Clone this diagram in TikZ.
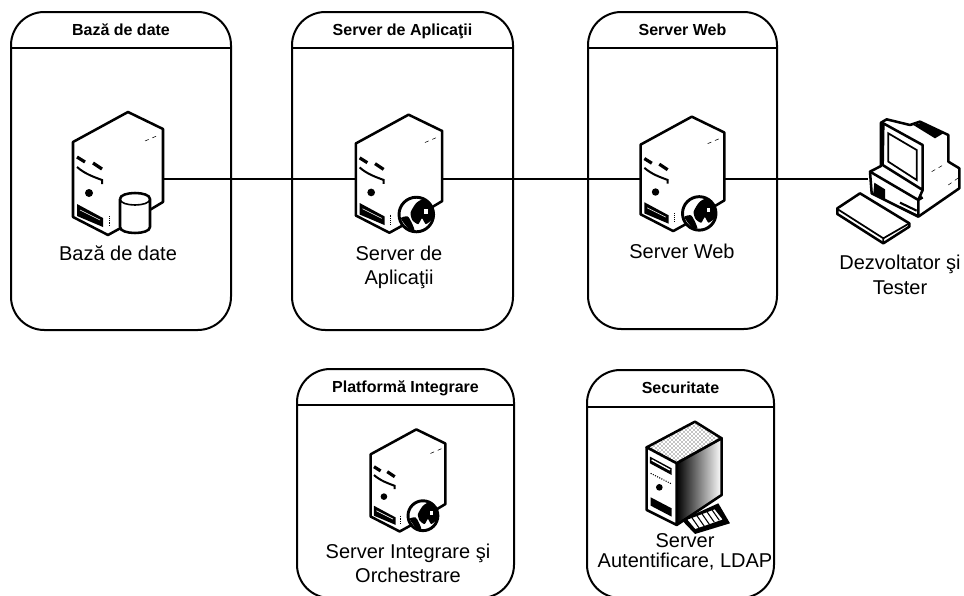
\documentclass[tikz,border=0pt]{standalone}
\usepackage{fontspec}
\setmainfont{Liberation Sans}
\usetikzlibrary{patterns}
\tikzset{
    panel/.style 2 args = {draw, line width = 1.5pt, rounded corners = 25pt, minimum width = #1*0.75pt, minimum height = #2*0.75pt, inner sep = 0pt},
    paneltitle/.style = {anchor = north, inner sep = 0pt, minimum height = 27pt, text height = 10.6pt, text depth = 1.6pt, font = \fontsize{12}{14}\selectfont\bfseries},
    icon/.style = {inner sep = 0pt, outer sep = 0pt, minimum width = #1*0.75pt},
    caption/.style = {align = center, inner sep = 0pt, font = \fontsize{15}{18.5}\selectfont},
    link/.style = {line width = 1.3pt},
    thickedge/.style = {line width = 1.9pt, line join = round},
    serverbody/.pic = {
        \draw [thickedge, fill = white] (10,-67) -- (45,-50) -- (45,23) -- (30,32) -- (10,45) -- (-10,56) -- (-45,38) -- (-45,-37) -- cycle;
        \draw [line width = 2.4pt] (-41,-22) -- (-33,-17) (-25,-16) -- (-16,-10);
        \draw [line width = 1.5pt] (-41,-12) .. controls (-33,-5) and (-24,-2) .. (-16,1) -- (-16,5);
        \fill (-29,14) circle [radius = 4];
        \fill (-41,25) -- (-15,39) -- (-15,48) -- (-41,37) -- cycle;
        \draw [white, line width = 0.5pt] (-38,31) -- (-18,41);
        \draw [line width = 0.4pt, dashed] (27,-38) -- (41,-44);
        \draw [line width = 0.4pt, densely dotted] (-9,37) -- (-9,47);
    },
    globebadge/.pic = {
        \draw [line width = 2.2pt, fill = white] (0,0) circle [radius = 18];
        \fill plot [smooth cycle, tension = 0.4] coordinates {(-6,-2) (0,-12) (8,-16) (16,-8) (17,4) (10,10) (6,4) (2,10) (-4,6)};
        \fill [white] (8,-6) rectangle (12,-1);
        \fill plot [smooth cycle, tension = 0.4] coordinates {(-16,4) (-9,2) (-5,8) (-2,16) (-8,15)};
    },
    appserver/.pic = {
        \pic [transform shape] {serverbody};
        \pic [transform shape] at (18,37) {globebadge};
    },
    dbserver/.pic = {
        \pic [transform shape] {serverbody};
        \draw [thickedge, fill = white] (2,20) -- (2,48) .. controls (2,56) and (32,56) .. (32,48) -- (32,20) .. controls (32,12) and (2,12) .. (2,20);
        \draw [line width = 1.2pt] (2,20) .. controls (2,28) and (32,28) .. (32,20);
    },
    authserver/.pic = {
        \begin{scope}[shift = {(-105,-115)}, scale = 0.3333]
            \draw [thickedge, pattern = crosshatch dots] (345,185) -- (425,235) -- (290,310) -- (200,262) -- cycle;
            \shade [left color = black, right color = white] (290,310) -- (425,235) -- (425,405) -- (290,495) -- cycle;
            \draw [thickedge] (290,310) -- (425,235) -- (425,405) -- (290,495);
            \draw [thickedge, fill = white] (200,262) -- (290,310) -- (290,495) -- (200,450) -- cycle;
            \fill (210,290) -- (275,325) -- (275,345) -- (210,310) -- cycle;
            \draw [white, line width = 1pt] (215,300) -- (270,330);
            \fill (238,382) circle [radius = 10];
            \fill (212,412) -- (275,445) -- (275,470) -- (212,437) -- cycle;
            \draw [line width = 0.8pt, densely dotted] (212,340) -- (275,372);
            \fill (305,480) -- (415,430) -- (450,490) -- (345,522) -- cycle;
            \draw [line width = 1.2pt, fill = white] (318,478) -- (405,445) -- (432,480) -- (345,510) -- cycle;
            \foreach \slat in {0,1,2,3,4}
                \draw [line width = 0.8pt] (335+\slat*15,472-\slat*6) -- (358+\slat*15,505-\slat*6);
        \end{scope}
    },
    devstation/.pic = {
        \begin{scope}[shift = {(-85,-69)}, scale = 0.3333]
            \draw [thickedge, fill = white] (183,38) -- (200,28) -- (270,45) -- (300,35) -- (385,75) -- (385,155) -- (418,175) -- (418,235) -- (295,320) -- (155,250) -- (150,185) -- (183,168) -- cycle;
            \fill (280,45) -- (310,37) -- (370,70) -- (345,85) -- cycle;
            \draw [thickedge] (190,40) -- (308,105) -- (308,240) -- (188,165) -- cycle;
            \draw [line width = 1.3pt] (205,70) -- (290,120) -- (290,210) -- (205,155) -- cycle;
            \draw [thickedge] (150,185) -- (295,270) -- (295,320) (295,270) -- (308,262) (308,240) -- (295,270);
            \fill (163,218) -- (195,238) -- (195,272) -- (160,250) -- cycle;
            \draw [line width = 1.6pt] (240,278) -- (290,302) (240,292) -- (290,316);
            \draw [line width = 0.4pt, dashed] (335,185) -- (370,165) (385,225) -- (420,200);
            \draw [thickedge, fill = white] (52,295) -- (120,250) -- (268,340) -- (268,350) -- (190,400) -- (52,312) -- cycle;
            \draw [line width = 1.3pt] (52,297) -- (190,385) -- (268,340) (190,385) -- (190,400);
        \end{scope}
    }
}
\begin{document}
\begin{tikzpicture}[x = 0.75pt, y = -0.75pt]
    \useasboundingbox (0,0) rectangle (964,596);
    \node (dbPanel) [panel = {220}{318}] at (121,171) {};
    \node (appPanel) [panel = {221}{318}] at (402.5,171) {};
    \node (webPanel) [panel = {189}{317}] at (682.5,170.5) {};
    \node (integrationPanel) [panel = {217}{229}] at (405.5,483.5) {};
    \node (securityPanel) [panel = {187}{228}] at (680.5,484) {};

    \node (dbTitle) [paneltitle] at (dbPanel.north) {Bază de date};
    \node (appTitle) [paneltitle] at (appPanel.north) {Server de Aplicaţii};
    \node (webTitle) [paneltitle] at (webPanel.north) {Server Web};
    \node (integrationTitle) [paneltitle] at (integrationPanel.north) {Platformă Integrare};
    \node (securityTitle) [paneltitle, minimum height = 27.75pt] at (securityPanel.north) {Securitate};
    \foreach \boxname in {db, app, web, integration, security}
        \draw [line width = 1.5pt] (\boxname Panel.west |- \boxname Title.south) -- (\boxname Panel.east |- \boxname Title.south);

    \node (dbIcon) [icon = 90] at (118,179) {};
    \node (appIcon) [icon = 86] at (399,179) {};
    \node (webIcon) [icon = 83] at (682.5,179) {};
    \node (pcIcon) [icon = 74] at (905,179) {};
    \node (integrationIcon) [icon = 75] at (408,485) {};
    \node (securityIcon) [icon = 75] at (685,475) {};

    \draw [link] (dbIcon.east) -- (appIcon.west);
    \draw [link] (appIcon.east) -- (webIcon.west);
    \draw [link] (webIcon.east) -- (pcIcon.west);

    \pic at (dbIcon) {dbserver};
    \pic [scale = 0.96] at (appIcon) {appserver};
    \pic [scale = 0.93] at (webIcon) {appserver};
    \pic at (pcIcon) {devstation};
    \pic [scale = 0.83] at (integrationIcon) {appserver};
    \pic at (securityIcon) {authserver};

    \node (dbCaption) [caption] at (118,253) {Bază de date};
    \node (appCaption) [caption] at (399,267.5) {Server de\\Aplicaţii};
    \node (webCaption) [caption] at (682,251) {Server Web};
    \node (pcCaption) [caption] at (900,275) {Dezvoltator şi\\Tester};
    \node (integrationCaption) [caption] at (408,563.5) {Server Integrare şi\\Orchestrare};
    \node (securityCaption) [caption, font = \fontsize{15}{15}\selectfont] at (685,552) {Server\\Autentificare, LDAP};
\end{tikzpicture}
\end{document}
